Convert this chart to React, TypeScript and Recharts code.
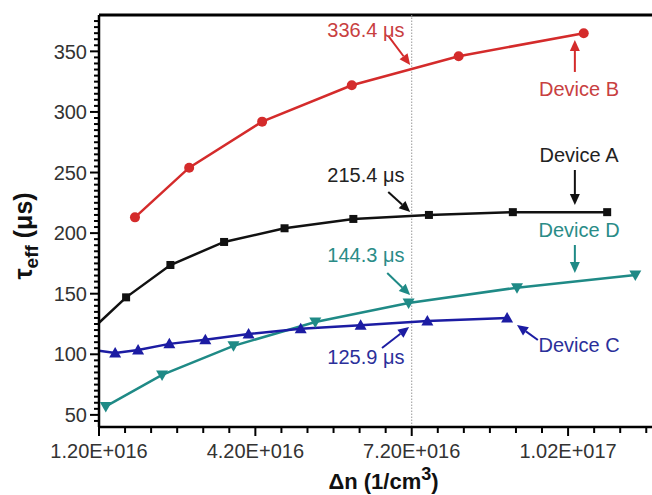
import { LineChart, Line, XAxis, YAxis, ReferenceLine, ReferenceDot, Label } from 'recharts'

// Δn in units of 1e16 cm^-3, τeff in µs
const deviceA = [
  { x: 1.2, y: 126 }, { x: 1.72, y: 147 }, { x: 2.57, y: 173.7 }, { x: 3.6, y: 192.7 },
  { x: 4.76, y: 204 }, { x: 6.08, y: 211.7 }, { x: 7.53, y: 215 }, { x: 9.14, y: 217.3 }, { x: 10.95, y: 217.3 },
]
const deviceB = [
  { x: 1.89, y: 213 }, { x: 2.93, y: 254 }, { x: 4.33, y: 292 }, { x: 6.05, y: 322 },
  { x: 8.1, y: 346 }, { x: 10.5, y: 365 },
]
const deviceC = [
  { x: 1.2, y: 103 }, { x: 1.51, y: 101 }, { x: 1.95, y: 103.6 }, { x: 2.55, y: 108.6 },
  { x: 3.24, y: 112 }, { x: 4.07, y: 116.8 }, { x: 5.07, y: 121 }, { x: 6.22, y: 124 },
  { x: 7.5, y: 127.5 }, { x: 9.03, y: 130 },
]
const deviceD = [
  { x: 1.33, y: 57 }, { x: 2.41, y: 83 }, { x: 3.78, y: 107 }, { x: 5.35, y: 126.7 },
  { x: 7.14, y: 142.4 }, { x: 9.22, y: 155 }, { x: 11.49, y: 165.5 },
]

const X_DOMAIN = [1.2, 11.81]
const Y_DOMAIN = [40, 380]
const X_MAJOR = [1.2, 4.2, 7.2, 10.2]
const Y_MAJOR = [50, 100, 150, 200, 250, 300, 350]
const MARK_X = 7.2

const RED = '#d42b2b'
const BLACK = '#111111'
const BLUE = '#1c1ca3'
const TEAL = '#1f8a86'

const notes = [
  { text: '336.4 μs', x: 6.32, y: 367.6, color: '#c8403f' },
  { text: '215.4 μs', x: 6.32, y: 248, color: '#222' },
  { text: '144.3 μs', x: 6.32, y: 182, color: '#2a8c87' },
  { text: '125.9 μs', x: 6.32, y: 97.8, color: '#2b2f9a' },
  { text: 'Device B', x: 10.41, y: 318.9, color: '#c8403f' },
  { text: 'Device A', x: 10.41, y: 264.5, color: '#222' },
  { text: 'Device D', x: 10.41, y: 202.6, color: '#2a8c87' },
  { text: 'Device C', x: 10.41, y: 107.7, color: '#2b2f9a' },
]

const arrows = [
  { from: [6.75, 362.7], to: [7.17, 338.7], color: RED },
  { from: [6.75, 234], to: [7.17, 217.4], color: BLACK },
  { from: [6.73, 167.1], to: [7.17, 148.9], color: TEAL },
  { from: [6.63, 105.2], to: [7.15, 122.5], color: BLUE },
  { from: [10.33, 333], to: [10.33, 359.4], color: RED },
  { from: [10.33, 252.1], to: [10.33, 223.2], color: BLACK },
  { from: [10.33, 190.2], to: [10.33, 167.1], color: TEAL },
  { from: [9.62, 111.8], to: [9.22, 124.2], color: BLUE },
]

const xTicks: number[] = []
for (let k = 0; k <= 21; k++) xTicks.push(Math.round((1.2 + 0.5 * k) * 10) / 10)
const yTicks: number[] = []
for (let v = 45; v <= 375; v += 5) yTicks.push(v)

const FONT = '"Liberation Sans", Arial, sans-serif'

const fmtX = (v: number) => {
  const [m, e] = (v * 1e16).toExponential(2).split('e')
  return `${m}E+0${Number(e)}`
}

const YTick = ({ x, y, payload }: any) => {
  const major = Y_MAJOR.includes(payload.value)
  return (
    <g>
      <line x1={x} x2={x - (major ? 9 : 5)} y1={y} y2={y} stroke="#000" strokeWidth={2} />
      {major && (
        <text x={x - 12} y={y} dy="0.36em" textAnchor="end" fontSize={20} fill="#333" fontFamily={FONT}>
          {payload.value}
        </text>
      )}
    </g>
  )
}

const XTick = ({ x, y, payload }: any) => {
  const major = X_MAJOR.some(m => Math.abs(m - payload.value) < 1e-6)
  return (
    <g>
      <line x1={x} x2={x} y1={y} y2={y + (major ? 9 : 6)} stroke="#000" strokeWidth={2} />
      {major && (
        <text x={x} y={y + 31} textAnchor="middle" fontSize={20} fill="#333" fontFamily={FONT}>
          {fmtX(payload.value)}
        </text>
      )}
    </g>
  )
}

const hideFirst = (shape: (cx: number, cy: number, c: string) => any, c: string) => (p: any) => {
  if (p.index === 0 && p.payload.x <= X_DOMAIN[0]) return <g key={p.key} />
  return <g key={p.key}>{shape(p.cx, p.cy, c)}</g>
}

const square = (cx: number, cy: number, c: string) => <rect x={cx - 4} y={cy - 4} width={8} height={8} fill={c} />
const circle = (cx: number, cy: number, c: string) => <circle cx={cx} cy={cy} r={5} fill={c} />
const triUp = (cx: number, cy: number, c: string) => (
  <polygon points={`${cx},${cy - 6} ${cx - 6},${cy + 4.5} ${cx + 6},${cy + 4.5}`} fill={c} />
)
const triDown = (cx: number, cy: number, c: string) => (
  <polygon points={`${cx},${cy + 6} ${cx - 6},${cy - 4.5} ${cx + 6},${cy - 4.5}`} fill={c} />
)

const ArrowShape = (color: string) => (p: any) => {
  const { x1, y1, x2, y2 } = p
  const a = Math.atan2(y2 - y1, x2 - x1)
  const L = 11
  const W = 5
  const bx = x2 - L * Math.cos(a)
  const by = y2 - L * Math.sin(a)
  const nx = -Math.sin(a) * W
  const ny = Math.cos(a) * W
  return (
    <g>
      <line x1={x1} y1={y1} x2={bx} y2={by} stroke={color} strokeWidth={2} />
      <polygon points={`${x2},${y2} ${bx + nx},${by + ny} ${bx - nx},${by - ny}`} fill={color} />
    </g>
  )
}

const NoteShape = (text: string, color: string) => (p: any) => (
  <text x={p.cx} y={p.cy} dy="0.36em" textAnchor="middle" fontSize={20} fill={color} fontFamily={FONT}>
    {text}
  </text>
)

const YLabel = ({ viewBox }: any) => {
  const cx = 32
  const cy = viewBox.y + viewBox.height / 2 + 15
  return (
    <text transform={`translate(${cx},${cy}) rotate(-90)`} textAnchor="middle" fontSize={25} fontWeight="bold" fill="#111" fontFamily={FONT}>
      τ
      <tspan fontSize={19} dy={6}>eff</tspan>
      <tspan dy={-6}> (μs)</tspan>
    </text>
  )
}

const XLabel = ({ viewBox }: any) => {
  const cx = viewBox.x + viewBox.width / 2 + 8
  return (
    <text x={cx} y={489} textAnchor="middle" fontSize={22} fontWeight="bold" fill="#111" fontFamily={FONT}>
      Δn (1/cm
      <tspan fontSize={18} dy={-9}>3</tspan>
      <tspan dy={9}>)</tspan>
    </text>
  )
}

export default function App() {
  return (
    <div style={{ position: 'absolute', left: 0, top: 0, background: '#fff' }}>
      <LineChart width={652} height={495} margin={{ top: 15, right: 0, bottom: 0, left: 39 }}>
        <XAxis
          type="number"
          dataKey="x"
          domain={X_DOMAIN}
          ticks={xTicks}
          interval={0}
          allowDataOverflow
          height={68}
          tickSize={0}
          tickMargin={0}
          tickLine={false}
          tick={<XTick />}
          axisLine={{ stroke: '#000', strokeWidth: 2.5 }}
        >
          <Label content={<XLabel />} />
        </XAxis>
        <YAxis
          type="number"
          dataKey="y"
          domain={Y_DOMAIN}
          ticks={yTicks}
          interval={0}
          allowDataOverflow
          width={60}
          tickSize={0}
          tickMargin={0}
          tickLine={false}
          tick={<YTick />}
          axisLine={{ stroke: '#000', strokeWidth: 2.5 }}
        >
          <Label content={<YLabel />} />
        </YAxis>
        <ReferenceLine y={Y_DOMAIN[1]} stroke="#000" strokeWidth={3} />
        <ReferenceLine x={MARK_X} stroke="#999" strokeWidth={1} strokeDasharray="1.5 1.5" />
        <Line data={deviceB} dataKey="y" stroke={RED} strokeWidth={2.5} dot={hideFirst(circle, RED)} isAnimationActive={false} />
        <Line data={deviceA} dataKey="y" stroke={BLACK} strokeWidth={2.5} dot={hideFirst(square, BLACK)} isAnimationActive={false} />
        <Line data={deviceD} dataKey="y" stroke={TEAL} strokeWidth={2.5} dot={hideFirst(triDown, TEAL)} isAnimationActive={false} />
        <Line data={deviceC} dataKey="y" stroke={BLUE} strokeWidth={2.5} dot={hideFirst(triUp, BLUE)} isAnimationActive={false} />
        {arrows.map((a, i) => (
          <ReferenceLine
            key={`ar${i}`}
            segment={[{ x: a.from[0], y: a.from[1] }, { x: a.to[0], y: a.to[1] }]}
            shape={ArrowShape(a.color)}
          />
        ))}
        {notes.map((n, i) => (
          <ReferenceDot key={`n${i}`} x={n.x} y={n.y} r={0} shape={NoteShape(n.text, n.color)} />
        ))}
      </LineChart>
    </div>
  )
}
